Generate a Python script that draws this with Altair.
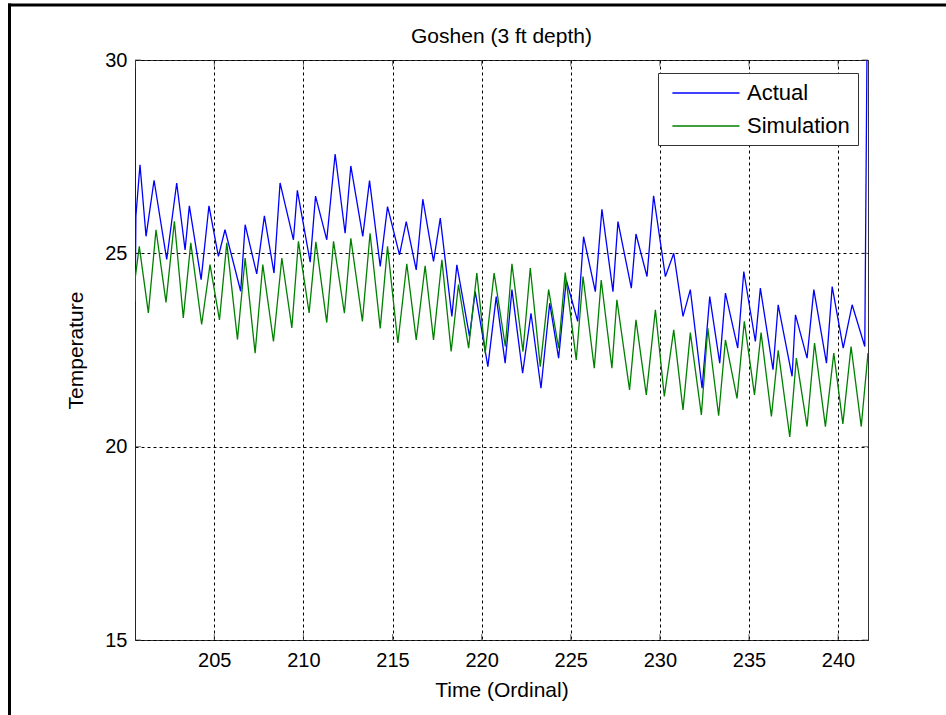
import altair as alt
import pandas as pd

# ---- data ----
t_actual = [200.55, 200.56, 200.57, 200.60, 200.83, 201.17, 201.62, 202.33, 202.89, 203.36,
            203.60, 204.26, 204.70, 205.23, 205.60, 206.48, 206.73, 207.38, 207.81, 208.35,
            208.69, 209.44, 209.66, 210.38, 210.68, 211.31, 211.78, 212.34, 212.66, 213.33,
            213.71, 214.31, 214.72, 215.39, 215.77, 216.33, 216.70, 217.30, 217.68, 218.33,
            218.61, 219.32, 219.64, 220.35, 220.82, 221.32, 221.70, 222.30, 222.77, 223.33,
            223.82, 224.32, 224.75, 225.39, 225.72, 226.38, 226.75, 227.37, 227.65, 228.40,
            228.66, 229.28, 229.65, 230.31, 230.78, 231.30, 231.71, 232.37, 232.80, 233.36,
            233.68, 234.37, 234.71, 235.36, 235.64, 236.35, 236.64, 237.42, 237.61, 238.26,
            238.64, 239.35, 239.67, 240.29, 240.79, 241.50, 241.62]
v_actual = [15.0, 29.8, 24.4, 25.96, 27.29, 25.44, 26.89, 24.84, 26.82, 25.09,
            26.23, 24.32, 26.23, 24.92, 25.61, 24.02, 25.74, 24.47, 25.97, 24.49,
            26.82, 25.35, 26.63, 24.77, 26.48, 25.35, 27.57, 25.52, 27.26, 25.44,
            26.88, 24.66, 26.21, 24.96, 25.82, 24.57, 26.40, 24.79, 25.91, 23.37,
            24.70, 22.85, 24.01, 22.07, 23.88, 22.16, 24.06, 21.90, 23.45, 21.51,
            23.71, 22.29, 24.31, 23.24, 25.43, 24.01, 26.14, 24.01, 25.82, 24.10,
            25.50, 24.40, 26.49, 24.40, 25.00, 23.37, 24.06, 21.51, 23.88, 22.16,
            23.97, 22.55, 24.53, 22.72, 24.10, 21.99, 23.67, 21.82, 23.41, 22.29,
            24.06, 22.16, 24.14, 22.55, 23.67, 22.59, 30.0]

t_sim = [200.55, 200.56, 200.79, 201.30, 201.73, 202.29, 202.76, 203.26, 203.68, 204.29,
         204.76, 205.29, 205.70, 206.30, 206.73, 207.29, 207.72, 208.32, 208.79, 209.35,
         209.72, 210.32, 210.70, 211.31, 211.69, 212.30, 212.66, 213.31, 213.74, 214.31,
         214.72, 215.30, 215.80, 216.33, 216.83, 217.30, 217.77, 218.29, 218.70, 219.27,
         219.73, 220.20, 220.70, 221.33, 221.70, 222.32, 222.73, 223.29, 223.76, 224.32,
         224.69, 225.31, 225.69, 226.32, 226.71, 227.31, 227.59, 228.30, 228.66, 229.24,
         229.75, 230.25, 230.78, 231.30, 231.71, 232.33, 232.69, 233.30, 233.68, 234.33,
         234.74, 235.31, 235.68, 236.26, 236.64, 237.29, 237.66, 238.26, 238.68, 239.29,
         239.76, 240.27, 240.73, 241.30, 241.68]
v_sim = [23.76, 24.36, 25.18, 23.46, 25.61, 23.73, 25.83, 23.33, 25.27, 23.16,
         24.71, 23.28, 25.27, 22.77, 24.88, 22.42, 24.71, 22.72, 24.88, 23.07,
         25.31, 23.46, 25.30, 23.21, 25.31, 23.45, 25.39, 23.24, 25.52, 23.06,
         25.18, 22.68, 24.73, 22.76, 24.68, 22.76, 24.83, 22.46, 24.19, 22.55,
         24.49, 22.42, 24.49, 22.59, 24.73, 22.46, 24.62, 22.07, 24.06, 22.55,
         24.50, 22.24, 24.40, 22.03, 24.31, 22.03, 23.80, 21.47, 23.28, 21.34,
         23.54, 21.30, 23.02, 20.95, 22.95, 20.82, 23.07, 20.80, 22.76, 21.25,
         23.24, 21.34, 22.95, 20.78, 22.49, 20.25, 22.29, 20.52, 22.68, 20.52,
         22.42, 20.59, 22.59, 20.52, 22.42]

series_names = ["Actual", "Simulation"]
series_colors = ["#0000ff", "#008000"]
x_ticks = [205, 210, 215, 220, 225, 230, 235, 240]
y_ticks = [15, 20, 25, 30]
x_domain = [200.55, 241.68]
y_domain = [15, 30]

df = pd.concat([
    pd.DataFrame({"t": t_actual, "v": v_actual, "series": series_names[0], "o": range(len(t_actual))}),
    pd.DataFrame({"t": t_sim, "v": v_sim, "series": series_names[1], "o": range(len(t_sim))}),
])
df_xt = pd.DataFrame({"t": x_ticks})
df_yt = pd.DataFrame({"v": y_ticks})
one = pd.DataFrame({"a": [0]})

W, H = 733, 580
FONT = "Liberation Sans"

xscale = alt.Scale(domain=x_domain, nice=False, zero=False)
yscale = alt.Scale(domain=y_domain, nice=False, zero=False)

lines = alt.Chart(df).mark_line(strokeWidth=1.3, clip=True).encode(
    x=alt.X("t:Q", scale=xscale,
            axis=alt.Axis(values=x_ticks, title="Time (Ordinal)", grid=True, ticks=False,
                          domain=False, labelPadding=10, titlePadding=9)),
    y=alt.Y("v:Q", scale=yscale,
            axis=alt.Axis(values=y_ticks, title="Temperature", grid=True, ticks=False,
                          domain=False, labelPadding=8, titlePadding=18)),
    color=alt.Color("series:N", title=None,
                    scale=alt.Scale(domain=series_names, range=series_colors),
                    legend=alt.Legend(orient="none", legendX=523, legendY=13,
                                      symbolType="M-0.5,0H5.5", symbolSize=500,
                                      symbolStrokeWidth=1.3, labelFontSize=22,
                                      labelFont=FONT, labelColor="#000",
                                      fillColor="#ffffff", strokeColor="#333",
                                      padding=8, rowPadding=10, labelOffset=57)),
    order="o:Q",
)

tick_style = dict(color="#333", thickness=1, size=6)
xt_bottom = alt.Chart(df_xt).mark_tick(**tick_style).encode(
    x=alt.X("t:Q", scale=xscale), y=alt.value(H - 3))
xt_top = alt.Chart(df_xt).mark_tick(**tick_style).encode(
    x=alt.X("t:Q", scale=xscale), y=alt.value(3))
yt_left = alt.Chart(df_yt).mark_tick(**tick_style).encode(
    y=alt.Y("v:Q", scale=yscale), x=alt.value(3))
yt_right = alt.Chart(df_yt).mark_tick(**tick_style).encode(
    y=alt.Y("v:Q", scale=yscale), x=alt.value(W - 3))

frame_left = alt.Chart(one).mark_rule(color="#000", strokeWidth=3, clip=False).encode(
    x=alt.value(-125.5), y=alt.value(-56.5), y2=alt.value(660))
frame_top = alt.Chart(one).mark_rule(color="#000", strokeWidth=3, clip=False).encode(
    y=alt.value(-55), x=alt.value(-127), x2=alt.value(815))

chart = alt.layer(lines, xt_bottom, xt_top, yt_left, yt_right, frame_left, frame_top).properties(
    width=W, height=H,
    title=alt.TitleParams("Goshen (3 ft depth)", fontSize=21, font=FONT, fontWeight="normal",
                          color="#000", offset=11, dy=56, anchor="middle", frame="group"),
    autosize="none",
    padding={"left": 135, "top": 60, "right": 78, "bottom": 75},
).configure_view(stroke="#333", strokeWidth=1).configure_axis(
    labelFont=FONT, titleFont=FONT, labelFontSize=20, titleFontSize=21,
    labelColor="#000", titleColor="#000", titleFontWeight="normal",
    gridColor="#000", gridDash=[3, 3], gridWidth=1, gridOpacity=1,
)

chart.save("out.html", embed_options={"renderer": "svg", "actions": False})
